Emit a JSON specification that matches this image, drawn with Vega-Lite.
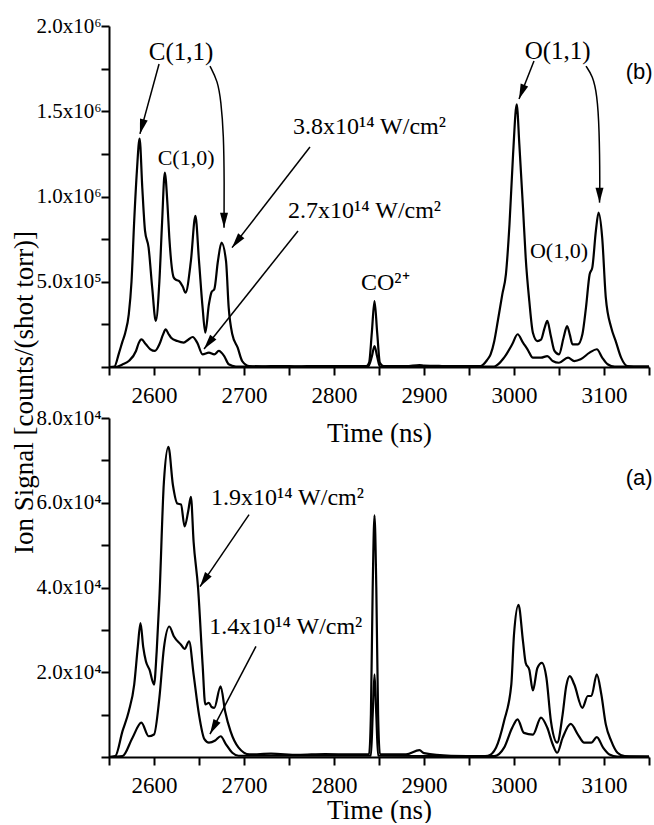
{
  "$schema": "https://vega.github.io/schema/vega-lite/v6.json",
  "padding": {"left": 10, "top": 15, "right": 0, "bottom": 0},
  "background": "white",
  "bounds": "flush",
  "spacing": 51,
  "config": {
    "font": "Liberation Serif",
    "view": {"stroke": null},
    "style": {"guide-label": {"font": "Liberation Serif"}, "guide-title": {"font": "Liberation Serif"}},
    "axis": {
      "grid": false, "domainColor": "black", "domainWidth": 2, "tickColor": "black", "tickWidth": 2, "tickSize": 8,
      "labelFont": "Liberation Serif", "labelColor": "black", "titleFont": "Liberation Serif", "titleFontWeight": "normal", "titleColor": "black"
    }
  },
  "datasets": {
    "spectra": [
      {"panel":"b","series":"3.8","time":2550,"signal":0},{"panel":"b","series":"3.8","time":2556,"signal":3000},{"panel":"b","series":"3.8","time":2561,"signal":80000},{"panel":"b","series":"3.8","time":2565,"signal":150000},{"panel":"b","series":"3.8","time":2568,"signal":200000},{"panel":"b","series":"3.8","time":2572,"signal":310000},{"panel":"b","series":"3.8","time":2575,"signal":500000},{"panel":"b","series":"3.8","time":2578,"signal":856000},{"panel":"b","series":"3.8","time":2581,"signal":1150000},{"panel":"b","series":"3.8","time":2584,"signal":1340000},{"panel":"b","series":"3.8","time":2587,"signal":1050000},{"panel":"b","series":"3.8","time":2590,"signal":800000},{"panel":"b","series":"3.8","time":2594,"signal":700000},{"panel":"b","series":"3.8","time":2598,"signal":465000},{"panel":"b","series":"3.8","time":2602,"signal":270000},{"panel":"b","series":"3.8","time":2606,"signal":504000},{"panel":"b","series":"3.8","time":2609,"signal":850000},{"panel":"b","series":"3.8","time":2612,"signal":1140000},{"panel":"b","series":"3.8","time":2615,"signal":950000},{"panel":"b","series":"3.8","time":2617,"signal":760000},{"panel":"b","series":"3.8","time":2622,"signal":524000},{"panel":"b","series":"3.8","time":2625,"signal":510000},{"panel":"b","series":"3.8","time":2628,"signal":504000},{"panel":"b","series":"3.8","time":2632,"signal":470000},{"panel":"b","series":"3.8","time":2635,"signal":436000},{"panel":"b","series":"3.8","time":2641,"signal":622000},{"panel":"b","series":"3.8","time":2646,"signal":886000},{"panel":"b","series":"3.8","time":2650,"signal":622000},{"panel":"b","series":"3.8","time":2654,"signal":348000},{"panel":"b","series":"3.8","time":2657,"signal":201000},{"panel":"b","series":"3.8","time":2661,"signal":367000},{"panel":"b","series":"3.8","time":2664,"signal":440000},{"panel":"b","series":"3.8","time":2667,"signal":456000},{"panel":"b","series":"3.8","time":2671,"signal":620000},{"panel":"b","series":"3.8","time":2675,"signal":729000},{"panel":"b","series":"3.8","time":2680,"signal":622000},{"panel":"b","series":"3.8","time":2683,"signal":348000},{"panel":"b","series":"3.8","time":2687,"signal":192000},{"panel":"b","series":"3.8","time":2693,"signal":113000},{"panel":"b","series":"3.8","time":2698,"signal":35000},{"panel":"b","series":"3.8","time":2706,"signal":6000},{"panel":"b","series":"3.8","time":2720,"signal":4000},{"panel":"b","series":"3.8","time":2740,"signal":6000},{"panel":"b","series":"3.8","time":2760,"signal":4000},{"panel":"b","series":"3.8","time":2780,"signal":6000},{"panel":"b","series":"3.8","time":2800,"signal":5000},{"panel":"b","series":"3.8","time":2820,"signal":6000},{"panel":"b","series":"3.8","time":2836,"signal":6000},{"panel":"b","series":"3.8","time":2839,"signal":25000},{"panel":"b","series":"3.8","time":2842,"signal":200000},{"panel":"b","series":"3.8","time":2845,"signal":387000},{"panel":"b","series":"3.8","time":2848,"signal":200000},{"panel":"b","series":"3.8","time":2851,"signal":25000},{"panel":"b","series":"3.8","time":2855,"signal":6000},{"panel":"b","series":"3.8","time":2880,"signal":5000},{"panel":"b","series":"3.8","time":2895,"signal":11000},{"panel":"b","series":"3.8","time":2900,"signal":8000},{"panel":"b","series":"3.8","time":2920,"signal":6000},{"panel":"b","series":"3.8","time":2950,"signal":5000},{"panel":"b","series":"3.8","time":2963,"signal":6000},{"panel":"b","series":"3.8","time":2970,"signal":40000},{"panel":"b","series":"3.8","time":2974,"signal":74000},{"panel":"b","series":"3.8","time":2978,"signal":150000},{"panel":"b","series":"3.8","time":2982,"signal":270000},{"panel":"b","series":"3.8","time":2987,"signal":426000},{"panel":"b","series":"3.8","time":2991,"signal":543000},{"panel":"b","series":"3.8","time":2995,"signal":837000},{"panel":"b","series":"3.8","time":2999,"signal":1250000},{"panel":"b","series":"3.8","time":3003,"signal":1540000},{"panel":"b","series":"3.8","time":3006,"signal":1300000},{"panel":"b","series":"3.8","time":3010,"signal":934000},{"panel":"b","series":"3.8","time":3013,"signal":641000},{"panel":"b","series":"3.8","time":3017,"signal":387000},{"panel":"b","series":"3.8","time":3021,"signal":201000},{"panel":"b","series":"3.8","time":3026,"signal":152000},{"panel":"b","series":"3.8","time":3030,"signal":160000},{"panel":"b","series":"3.8","time":3034,"signal":230000},{"panel":"b","series":"3.8","time":3037,"signal":270000},{"panel":"b","series":"3.8","time":3041,"signal":180000},{"panel":"b","series":"3.8","time":3045,"signal":94000},{"panel":"b","series":"3.8","time":3050,"signal":74000},{"panel":"b","series":"3.8","time":3055,"signal":170000},{"panel":"b","series":"3.8","time":3059,"signal":240000},{"panel":"b","series":"3.8","time":3062,"signal":190000},{"panel":"b","series":"3.8","time":3065,"signal":133000},{"panel":"b","series":"3.8","time":3071,"signal":133000},{"panel":"b","series":"3.8","time":3076,"signal":192000},{"panel":"b","series":"3.8","time":3080,"signal":350000},{"panel":"b","series":"3.8","time":3084,"signal":543000},{"panel":"b","series":"3.8","time":3087,"signal":583000},{"panel":"b","series":"3.8","time":3091,"signal":800000},{"panel":"b","series":"3.8","time":3094,"signal":905000},{"panel":"b","series":"3.8","time":3098,"signal":758000},{"panel":"b","series":"3.8","time":3102,"signal":407000},{"panel":"b","series":"3.8","time":3108,"signal":231000},{"panel":"b","series":"3.8","time":3113,"signal":152000},{"panel":"b","series":"3.8","time":3119,"signal":55000},{"panel":"b","series":"3.8","time":3126,"signal":6000},{"panel":"b","series":"3.8","time":3140,"signal":3000},{"panel":"b","series":"3.8","time":3150,"signal":3000},
      {"panel":"b","series":"2.7","time":2550,"signal":0},{"panel":"b","series":"2.7","time":2557,"signal":0},{"panel":"b","series":"2.7","time":2565,"signal":15000},{"panel":"b","series":"2.7","time":2572,"signal":35000},{"panel":"b","series":"2.7","time":2580,"signal":94000},{"panel":"b","series":"2.7","time":2583,"signal":140000},{"panel":"b","series":"2.7","time":2586,"signal":162000},{"panel":"b","series":"2.7","time":2591,"signal":133000},{"panel":"b","series":"2.7","time":2596,"signal":104000},{"panel":"b","series":"2.7","time":2601,"signal":94000},{"panel":"b","series":"2.7","time":2606,"signal":133000},{"panel":"b","series":"2.7","time":2610,"signal":190000},{"panel":"b","series":"2.7","time":2613,"signal":221000},{"panel":"b","series":"2.7","time":2616,"signal":195000},{"panel":"b","series":"2.7","time":2619,"signal":172000},{"panel":"b","series":"2.7","time":2626,"signal":152000},{"panel":"b","series":"2.7","time":2633,"signal":143000},{"panel":"b","series":"2.7","time":2638,"signal":160000},{"panel":"b","series":"2.7","time":2643,"signal":176000},{"panel":"b","series":"2.7","time":2648,"signal":143000},{"panel":"b","series":"2.7","time":2654,"signal":74000},{"panel":"b","series":"2.7","time":2661,"signal":84000},{"panel":"b","series":"2.7","time":2667,"signal":74000},{"panel":"b","series":"2.7","time":2672,"signal":94000},{"panel":"b","series":"2.7","time":2678,"signal":64000},{"panel":"b","series":"2.7","time":2683,"signal":16000},{"panel":"b","series":"2.7","time":2691,"signal":3000},{"panel":"b","series":"2.7","time":2720,"signal":2000},{"panel":"b","series":"2.7","time":2780,"signal":3000},{"panel":"b","series":"2.7","time":2838,"signal":3000},{"panel":"b","series":"2.7","time":2842,"signal":60000},{"panel":"b","series":"2.7","time":2845,"signal":123000},{"panel":"b","series":"2.7","time":2848,"signal":60000},{"panel":"b","series":"2.7","time":2851,"signal":3000},{"panel":"b","series":"2.7","time":2900,"signal":3000},{"panel":"b","series":"2.7","time":2978,"signal":3000},{"panel":"b","series":"2.7","time":2989,"signal":55000},{"panel":"b","series":"2.7","time":2998,"signal":133000},{"panel":"b","series":"2.7","time":3004,"signal":192000},{"panel":"b","series":"2.7","time":3010,"signal":143000},{"panel":"b","series":"2.7","time":3015,"signal":104000},{"panel":"b","series":"2.7","time":3021,"signal":55000},{"panel":"b","series":"2.7","time":3030,"signal":55000},{"panel":"b","series":"2.7","time":3037,"signal":64000},{"panel":"b","series":"2.7","time":3043,"signal":35000},{"panel":"b","series":"2.7","time":3050,"signal":25000},{"panel":"b","series":"2.7","time":3060,"signal":55000},{"panel":"b","series":"2.7","time":3067,"signal":35000},{"panel":"b","series":"2.7","time":3074,"signal":45000},{"panel":"b","series":"2.7","time":3084,"signal":84000},{"panel":"b","series":"2.7","time":3092,"signal":104000},{"panel":"b","series":"2.7","time":3098,"signal":55000},{"panel":"b","series":"2.7","time":3104,"signal":16000},{"panel":"b","series":"2.7","time":3112,"signal":2000},{"panel":"b","series":"2.7","time":3150,"signal":2000},
      {"panel":"a","series":"1.9","time":2550,"signal":0},{"panel":"a","series":"1.9","time":2557,"signal":200},{"panel":"a","series":"1.9","time":2565,"signal":6100},{"panel":"a","series":"1.9","time":2572,"signal":10800},{"panel":"a","series":"1.9","time":2578,"signal":17100},{"panel":"a","series":"1.9","time":2582,"signal":26000},{"panel":"a","series":"1.9","time":2585,"signal":31600},{"panel":"a","series":"1.9","time":2588,"signal":26000},{"panel":"a","series":"1.9","time":2591,"signal":22600},{"panel":"a","series":"1.9","time":2595,"signal":20600},{"panel":"a","series":"1.9","time":2600,"signal":17100},{"panel":"a","series":"1.9","time":2603,"signal":25000},{"panel":"a","series":"1.9","time":2606,"signal":37500},{"panel":"a","series":"1.9","time":2611,"signal":64900},{"panel":"a","series":"1.9","time":2616,"signal":73200},{"panel":"a","series":"1.9","time":2621,"signal":64200},{"panel":"a","series":"1.9","time":2626,"signal":59800},{"panel":"a","series":"1.9","time":2630,"signal":59600},{"panel":"a","series":"1.9","time":2634,"signal":54400},{"panel":"a","series":"1.9","time":2638,"signal":58000},{"panel":"a","series":"1.9","time":2641,"signal":61400},{"panel":"a","series":"1.9","time":2644,"signal":50800},{"panel":"a","series":"1.9","time":2649,"signal":39800},{"panel":"a","series":"1.9","time":2654,"signal":21800},{"panel":"a","series":"1.9","time":2657,"signal":12400},{"panel":"a","series":"1.9","time":2661,"signal":12800},{"panel":"a","series":"1.9","time":2664,"signal":11800},{"panel":"a","series":"1.9","time":2667,"signal":11600},{"panel":"a","series":"1.9","time":2674,"signal":16700},{"panel":"a","series":"1.9","time":2679,"signal":10800},{"panel":"a","series":"1.9","time":2685,"signal":6100},{"panel":"a","series":"1.9","time":2694,"signal":2200},{"panel":"a","series":"1.9","time":2706,"signal":600},{"panel":"a","series":"1.9","time":2730,"signal":800},{"panel":"a","series":"1.9","time":2760,"signal":500},{"panel":"a","series":"1.9","time":2790,"signal":700},{"panel":"a","series":"1.9","time":2820,"signal":600},{"panel":"a","series":"1.9","time":2839,"signal":700},{"panel":"a","series":"1.9","time":2841,"signal":10000},{"panel":"a","series":"1.9","time":2843,"signal":40000},{"panel":"a","series":"1.9","time":2845,"signal":57000},{"panel":"a","series":"1.9","time":2847,"signal":40000},{"panel":"a","series":"1.9","time":2849,"signal":10000},{"panel":"a","series":"1.9","time":2851,"signal":700},{"panel":"a","series":"1.9","time":2880,"signal":600},{"panel":"a","series":"1.9","time":2895,"signal":1600},{"panel":"a","series":"1.9","time":2900,"signal":900},{"panel":"a","series":"1.9","time":2930,"signal":300},{"panel":"a","series":"1.9","time":2965,"signal":200},{"panel":"a","series":"1.9","time":2971,"signal":300},{"panel":"a","series":"1.9","time":2980,"signal":2200},{"panel":"a","series":"1.9","time":2989,"signal":8500},{"panel":"a","series":"1.9","time":2997,"signal":17100},{"panel":"a","series":"1.9","time":3000,"signal":28900},{"panel":"a","series":"1.9","time":3005,"signal":35900},{"panel":"a","series":"1.9","time":3010,"signal":27300},{"panel":"a","series":"1.9","time":3013,"signal":22200},{"panel":"a","series":"1.9","time":3017,"signal":20600},{"panel":"a","series":"1.9","time":3021,"signal":15700},{"panel":"a","series":"1.9","time":3026,"signal":21000},{"panel":"a","series":"1.9","time":3031,"signal":22200},{"panel":"a","series":"1.9","time":3036,"signal":18700},{"panel":"a","series":"1.9","time":3041,"signal":8500},{"panel":"a","series":"1.9","time":3048,"signal":3400},{"panel":"a","series":"1.9","time":3054,"signal":10000},{"panel":"a","series":"1.9","time":3058,"signal":16700},{"panel":"a","series":"1.9","time":3062,"signal":19100},{"panel":"a","series":"1.9","time":3067,"signal":17100},{"panel":"a","series":"1.9","time":3076,"signal":11600},{"panel":"a","series":"1.9","time":3082,"signal":14400},{"panel":"a","series":"1.9","time":3086,"signal":14400},{"panel":"a","series":"1.9","time":3092,"signal":19500},{"panel":"a","series":"1.9","time":3097,"signal":14800},{"panel":"a","series":"1.9","time":3102,"signal":7700},{"panel":"a","series":"1.9","time":3108,"signal":3800},{"panel":"a","series":"1.9","time":3115,"signal":1000},{"panel":"a","series":"1.9","time":3123,"signal":200},{"panel":"a","series":"1.9","time":3150,"signal":100},
      {"panel":"a","series":"1.4","time":2550,"signal":0},{"panel":"a","series":"1.4","time":2565,"signal":200},{"panel":"a","series":"1.4","time":2576,"signal":4500},{"panel":"a","series":"1.4","time":2586,"signal":8100},{"panel":"a","series":"1.4","time":2594,"signal":4900},{"panel":"a","series":"1.4","time":2600,"signal":5300},{"panel":"a","series":"1.4","time":2606,"signal":14000},{"panel":"a","series":"1.4","time":2611,"signal":25700},{"panel":"a","series":"1.4","time":2617,"signal":30800},{"panel":"a","series":"1.4","time":2622,"signal":28500},{"panel":"a","series":"1.4","time":2630,"signal":26500},{"panel":"a","series":"1.4","time":2634,"signal":25500},{"panel":"a","series":"1.4","time":2639,"signal":27300},{"panel":"a","series":"1.4","time":2644,"signal":19500},{"panel":"a","series":"1.4","time":2650,"signal":10000},{"panel":"a","series":"1.4","time":2656,"signal":4200},{"panel":"a","series":"1.4","time":2661,"signal":3400},{"panel":"a","series":"1.4","time":2668,"signal":3900},{"panel":"a","series":"1.4","time":2674,"signal":4900},{"panel":"a","series":"1.4","time":2680,"signal":3000},{"panel":"a","series":"1.4","time":2687,"signal":1000},{"panel":"a","series":"1.4","time":2694,"signal":300},{"panel":"a","series":"1.4","time":2841,"signal":300},{"panel":"a","series":"1.4","time":2843,"signal":10000},{"panel":"a","series":"1.4","time":2845,"signal":19500},{"panel":"a","series":"1.4","time":2847,"signal":10000},{"panel":"a","series":"1.4","time":2849,"signal":300},{"panel":"a","series":"1.4","time":2978,"signal":200},{"panel":"a","series":"1.4","time":2989,"signal":2200},{"panel":"a","series":"1.4","time":2998,"signal":6900},{"panel":"a","series":"1.4","time":3004,"signal":8900},{"panel":"a","series":"1.4","time":3011,"signal":5700},{"panel":"a","series":"1.4","time":3021,"signal":5300},{"panel":"a","series":"1.4","time":3030,"signal":9300},{"panel":"a","series":"1.4","time":3037,"signal":6900},{"panel":"a","series":"1.4","time":3043,"signal":3000},{"panel":"a","series":"1.4","time":3048,"signal":1000},{"panel":"a","series":"1.4","time":3054,"signal":4500},{"panel":"a","series":"1.4","time":3063,"signal":7800},{"panel":"a","series":"1.4","time":3071,"signal":5300},{"panel":"a","series":"1.4","time":3078,"signal":3400},{"panel":"a","series":"1.4","time":3086,"signal":3400},{"panel":"a","series":"1.4","time":3092,"signal":4700},{"panel":"a","series":"1.4","time":3099,"signal":2200},{"panel":"a","series":"1.4","time":3106,"signal":600},{"panel":"a","series":"1.4","time":3115,"signal":100},{"panel":"a","series":"1.4","time":3150,"signal":100}
    ],
    "arrows": [
      {"panel":"b","id":"c11a","k":0,"time":2605.6,"signal":1777000},{"panel":"b","id":"c11a","k":1,"time":2584.4,"signal":1367000},
      {"panel":"b","id":"c11b","k":0,"time":2662.2,"signal":1765000},{"panel":"b","id":"c11b","k":1,"time":2670.8,"signal":1677000},{"panel":"b","id":"c11b","k":2,"time":2674.4,"signal":1560000},{"panel":"b","id":"c11b","k":3,"time":2677.4,"signal":1367000},{"panel":"b","id":"c11b","k":4,"time":2678.1,"signal":1073000},{"panel":"b","id":"c11b","k":5,"time":2677.8,"signal":817000},
      {"panel":"b","id":"i38","k":0,"time":2773.3,"signal":1290000},{"panel":"b","id":"i38","k":1,"time":2686.7,"signal":700000},
      {"panel":"b","id":"i27","k":0,"time":2760,"signal":798000},{"panel":"b","id":"i27","k":1,"time":2655.6,"signal":106000},
      {"panel":"b","id":"o11a","k":0,"time":3022.2,"signal":1795000},{"panel":"b","id":"o11a","k":1,"time":3005.6,"signal":1572000},
      {"panel":"b","id":"o11b","k":0,"time":3080,"signal":1765000},{"panel":"b","id":"o11b","k":1,"time":3087.4,"signal":1707000},{"panel":"b","id":"o11b","k":2,"time":3092.2,"signal":1601000},{"panel":"b","id":"o11b","k":3,"time":3094.8,"signal":1403000},{"panel":"b","id":"o11b","k":4,"time":3095.5,"signal":1052000},{"panel":"b","id":"o11b","k":5,"time":3095,"signal":964000},
      {"panel":"a","id":"i19","k":0,"time":2705.6,"signal":57200},{"panel":"a","id":"i19","k":1,"time":2651.1,"signal":40200},
      {"panel":"a","id":"i14","k":0,"time":2713.3,"signal":26100},{"panel":"a","id":"i14","k":1,"time":2662.2,"signal":5400}
    ],
    "tips": [
      {"id":"c11a","time":2584.4,"signal":1367000},{"id":"c11b","time":2677.8,"signal":817000},{"id":"i38","time":2686.7,"signal":700000},{"id":"i27","time":2655.6,"signal":106000},{"id":"o11a","time":3005.6,"signal":1572000},{"id":"o11b","time":3095,"signal":964000},{"id":"i19","time":2651.1,"signal":40200},{"id":"i14","time":2662.2,"signal":5400}
    ],
    "labels": [
      {"panel":"b","kind":"peak","text":"C(1,1)","time":2630,"signal":1847000},
      {"panel":"b","kind":"peak","text":"O(1,1)","time":3048.5,"signal":1853000},
      {"panel":"b","kind":"sub","text":"C(1,0)","time":2635.6,"signal":1226000},
      {"panel":"b","kind":"sub","text":"O(1,0)","time":3050,"signal":680000},
      {"panel":"b","kind":"int","text":"3.8x10¹⁴ W/cm²","time":2754.4,"signal":1405000},
      {"panel":"b","kind":"int","text":"2.7x10¹⁴ W/cm²","time":2749,"signal":915000},
      {"panel":"b","kind":"int","text":"CO²⁺","time":2830,"signal":494000},
      {"panel":"b","kind":"tag","text":"(b)","time":3139,"signal":1730000},
      {"panel":"a","kind":"tag","text":"(a)","time":3139,"signal":65900},
      {"panel":"a","kind":"int","text":"1.9x10¹⁴ W/cm²","time":2663.3,"signal":61200},
      {"panel":"a","kind":"int","text":"1.4x10¹⁴ W/cm²","time":2661.5,"signal":30600}
    ]
  },
  "vconcat": [
    {
      "width": 540, "height": 341,
      "encoding": {
        "x": {"field": "time", "type": "quantitative", "scale": {"domain": [2550, 3150], "nice": false, "zero": false},
          "axis": {"values": [2550,2600,2650,2700,2750,2800,2850,2900,2950,3000,3050,3100,3150], "labelExpr": "datum.value % 100 == 0 ? '' + datum.value : ''", "labelFont": "Liberation Serif", "labelFontSize": 23, "labelPadding": 9, "title": "Time (ns)", "titleFont": "Liberation Serif", "titleFontSize": 27, "titleY": 53}},
        "y": {"field": "signal", "type": "quantitative", "scale": {"domain": [0, 2000000], "nice": false},
          "axis": {"values": [0,250000,500000,750000,1000000,1250000,1500000,1750000,2000000], "labelExpr": "datum.value == 0 || datum.value % 500000 != 0 ? '' : (datum.value >= 1000000 ? format(datum.value / 1000000, '.1f') + 'x10⁶' : format(datum.value / 100000, '.1f') + 'x10⁵')", "labelFont": "Liberation Serif", "labelFontSize": 21, "labelPadding": 0, "title": "Ion Signal [counts/(shot torr)]", "titleFont": "Liberation Serif", "titleFontSize": 27, "titleX": -71, "titleY": 366}}
      },
      "layer": [
        {"data": {"name": "spectra"}, "transform": [{"filter": "datum.panel == 'b'"}], "mark": {"type": "line", "color": "black", "strokeWidth": 2.2, "interpolate": "monotone"}, "encoding": {"detail": {"field": "series"}}},
        {"data": {"name": "arrows"}, "transform": [{"filter": "datum.panel == 'b'"}], "mark": {"type": "line", "color": "black", "strokeWidth": 1.5, "interpolate": "basis"}, "encoding": {"detail": {"field": "id"}, "order": {"field": "k", "type": "quantitative"}}},
        {"data": {"name": "tips"}, "transform": [{"filter": "datum.id == 'c11a'"}], "mark": {"type": "point", "shape": "M0,0L-1,-3.75L1,-3.75Z", "size": 64, "filled": true, "color": "black", "opacity": 1, "angle": 15}},
        {"data": {"name": "tips"}, "transform": [{"filter": "datum.id == 'c11b' || datum.id == 'o11b'"}], "mark": {"type": "point", "shape": "M0,0L-1,-3.75L1,-3.75Z", "size": 64, "filled": true, "color": "black", "opacity": 1, "angle": 0}},
        {"data": {"name": "tips"}, "transform": [{"filter": "datum.id == 'i38' || datum.id == 'i27'"}], "mark": {"type": "point", "shape": "M0,0L-1,-3.75L1,-3.75Z", "size": 64, "filled": true, "color": "black", "opacity": 1, "angle": 38}},
        {"data": {"name": "tips"}, "transform": [{"filter": "datum.id == 'o11a'"}], "mark": {"type": "point", "shape": "M0,0L-1,-3.75L1,-3.75Z", "size": 64, "filled": true, "color": "black", "opacity": 1, "angle": 21}},
        {"data": {"name": "labels"}, "transform": [{"filter": "datum.panel == 'b' && datum.kind == 'peak'"}], "mark": {"type": "text", "font": "Liberation Serif", "fontSize": 25, "align": "center", "baseline": "middle", "color": "black"}, "encoding": {"text": {"field": "text"}}},
        {"data": {"name": "labels"}, "transform": [{"filter": "datum.panel == 'b' && datum.kind == 'sub'"}], "mark": {"type": "text", "font": "Liberation Serif", "fontSize": 22, "align": "center", "baseline": "middle", "color": "black"}, "encoding": {"text": {"field": "text"}}},
        {"data": {"name": "labels"}, "transform": [{"filter": "datum.panel == 'b' && datum.kind == 'int'"}], "mark": {"type": "text", "font": "Liberation Serif", "fontSize": 24, "align": "left", "baseline": "middle", "color": "black"}, "encoding": {"text": {"field": "text"}}},
        {"data": {"name": "labels"}, "transform": [{"filter": "datum.panel == 'b' && datum.kind == 'tag'"}], "mark": {"type": "text", "font": "Liberation Sans", "fontSize": 22, "align": "center", "baseline": "middle", "color": "black"}, "encoding": {"text": {"field": "text"}}}
      ]
    },
    {
      "width": 540, "height": 339,
      "encoding": {
        "x": {"field": "time", "type": "quantitative", "scale": {"domain": [2550, 3150], "nice": false, "zero": false},
          "axis": {"values": [2550,2600,2650,2700,2750,2800,2850,2900,2950,3000,3050,3100,3150], "labelExpr": "datum.value % 100 == 0 ? '' + datum.value : ''", "labelFont": "Liberation Serif", "labelFontSize": 23, "labelPadding": 9, "title": "Time (ns)", "titleFont": "Liberation Serif", "titleFontSize": 27, "titleY": 40}},
        "y": {"field": "signal", "type": "quantitative", "scale": {"domain": [0, 80000], "nice": false},
          "axis": {"values": [0,10000,20000,30000,40000,50000,60000,70000,80000], "labelExpr": "datum.value == 0 || datum.value % 20000 != 0 ? '' : format(datum.value / 10000, '.1f') + 'x10⁴'", "labelFont": "Liberation Serif", "labelFontSize": 21, "labelPadding": 0, "title": null}}
      },
      "layer": [
        {"data": {"name": "spectra"}, "transform": [{"filter": "datum.panel == 'a'"}], "mark": {"type": "line", "color": "black", "strokeWidth": 2.2, "interpolate": "monotone"}, "encoding": {"detail": {"field": "series"}}},
        {"data": {"name": "arrows"}, "transform": [{"filter": "datum.panel == 'a'"}], "mark": {"type": "line", "color": "black", "strokeWidth": 1.5}, "encoding": {"detail": {"field": "id"}, "order": {"field": "k", "type": "quantitative"}}},
        {"data": {"name": "tips"}, "transform": [{"filter": "datum.id == 'i19'"}], "mark": {"type": "point", "shape": "M0,0L-1,-3.75L1,-3.75Z", "size": 64, "filled": true, "color": "black", "opacity": 1, "angle": 34}},
        {"data": {"name": "tips"}, "transform": [{"filter": "datum.id == 'i14'"}], "mark": {"type": "point", "shape": "M0,0L-1,-3.75L1,-3.75Z", "size": 64, "filled": true, "color": "black", "opacity": 1, "angle": 28}},
        {"data": {"name": "labels"}, "transform": [{"filter": "datum.panel == 'a' && datum.kind == 'int'"}], "mark": {"type": "text", "font": "Liberation Serif", "fontSize": 24, "align": "left", "baseline": "middle", "color": "black"}, "encoding": {"text": {"field": "text"}}},
        {"data": {"name": "labels"}, "transform": [{"filter": "datum.panel == 'a' && datum.kind == 'tag'"}], "mark": {"type": "text", "font": "Liberation Sans", "fontSize": 22, "align": "center", "baseline": "middle", "color": "black"}, "encoding": {"text": {"field": "text"}}}
      ]
    }
  ]
}
